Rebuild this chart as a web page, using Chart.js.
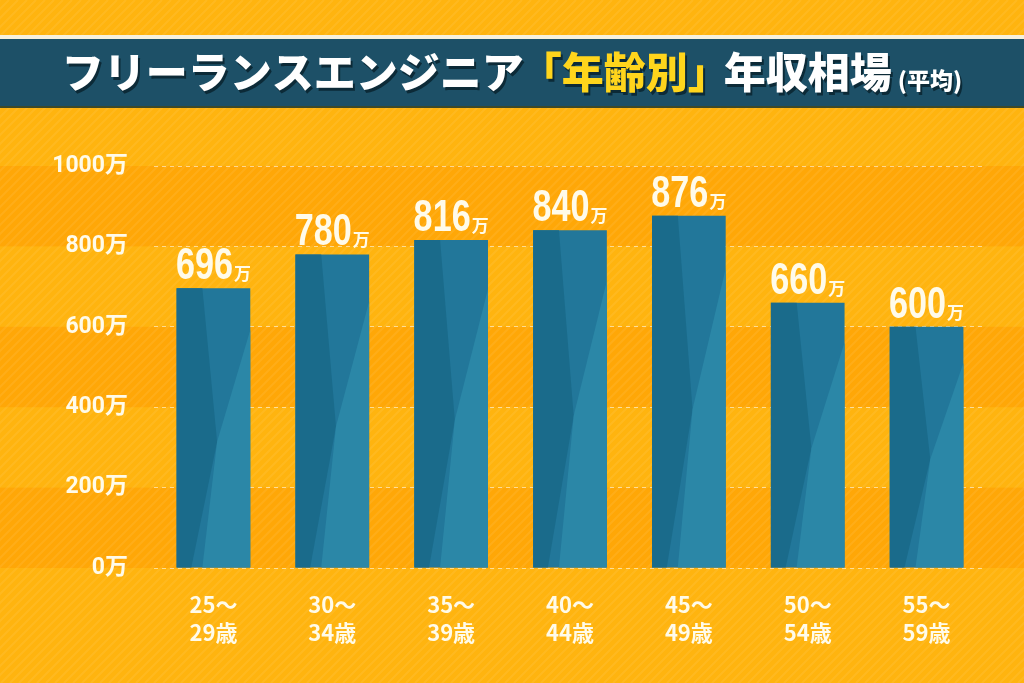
<!DOCTYPE html>
<html>
<head>
<meta charset="utf-8">
<script src="https://cdn.jsdelivr.net/npm/chart.js@4.4.1/dist/chart.umd.min.js"></script>
<style>
  html, body { margin: 0; padding: 0; background: #ffb30d; }
  #wrap { width: 1024px; height: 683px; }
</style>
</head>
<body>
<div id="wrap"><canvas id="chart" width="1024" height="683"></canvas></div>
<script>
// data
const ageRanges = [
  ['25～', '29歳'],
  ['30～', '34歳'],
  ['35～', '39歳'],
  ['40～', '44歳'],
  ['45～', '49歳'],
  ['50～', '54歳'],
  ['55～', '59歳']
];
const avgIncome = [696, 780, 816, 840, 876, 660, 600];
const yTicks = [0, 200, 400, 600, 800, 1000];
const unit = '万';

const titleParts = [
  { text: 'フリーランスエンジニア', color: '#ffffff', size: 42, gap: 0 },
  { text: '「年齢別」', color: '#ffd51c', size: 42, gap: -4 },
  { text: '年収相場', color: '#ffffff', size: 42, gap: -6 },
  { text: '(平均)', color: '#ffffff', size: 23, gap: 6 }
];

const JP = '"Noto Sans CJK JP", "Noto Sans", sans-serif';

/* ===== background: orange bands, stripes, title banner ===== */
const backdrop = {
  id: 'backdrop',
  beforeDraw(chart) {
    const { ctx, width, height, scales } = chart;
    const y = scales.y;
    ctx.save();
    ctx.fillStyle = '#ffb40f';
    ctx.fillRect(0, 0, width, height);

    // darker bands every other step
    ctx.fillStyle = '#ffa707';
    for (let i = 0; i < yTicks.length - 1; i += 2) {
      const a = y.getPixelForValue(yTicks[i]);
      const b = y.getPixelForValue(yTicks[i + 1]);
      ctx.fillRect(0, b, width, a - b);
    }

    // thin diagonal stripes
    ctx.strokeStyle = 'rgba(255,255,255,0.07)';
    ctx.lineWidth = 2;
    for (let x = -height; x < width + height; x += 9) {
      ctx.beginPath();
      ctx.moveTo(x, height);
      ctx.lineTo(x + height, 0);
      ctx.stroke();
    }

    // banner
    ctx.fillStyle = '#f7f1de';
    ctx.fillRect(0, 35, width, 4);
    ctx.fillStyle = '#1d5067';
    ctx.fillRect(0, 39, width, 68);
    ctx.fillStyle = '#3d4a2a';
    ctx.fillRect(0, 106, width, 2);
    ctx.restore();
  },
  afterDraw(chart) {
    // title with mixed colours
    const { ctx, width } = chart;
    ctx.save();
    ctx.textBaseline = 'middle';
    let total = 0;
    titleParts.forEach(p => {
      ctx.font = '900 ' + p.size + 'px ' + JP;
      p.w = ctx.measureText(p.text).width;
      total += p.w + p.gap;
    });
    let x = (width - total) / 2;
    titleParts.forEach(p => {
      x += p.gap;
      ctx.font = '900 ' + p.size + 'px ' + JP;
      const yy = p.size < 30 ? 80 : 72;
      ctx.fillStyle = '#0c2a37';
      ctx.fillText(p.text, x + 2, yy + 3);
      ctx.fillStyle = p.color;
      ctx.fillText(p.text, x, yy);
      x += p.w;
    });
    ctx.restore();
  }
};

/* ===== bar shading and value labels ===== */
const barDecor = {
  id: 'barDecor',
  afterDatasetsDraw(chart) {
    const { ctx } = chart;
    const meta = chart.getDatasetMeta(0);
    ctx.save();
    meta.data.forEach((bar, i) => {
      const L = bar.x - bar.width / 2, R = bar.x + bar.width / 2;
      const T = bar.y, B = bar.base, w = R - L, h = B - T;

      ctx.fillStyle = '#1a6b8b';
      ctx.beginPath();
      ctx.moveTo(L, T);
      ctx.lineTo(L + 0.35 * w, T);
      ctx.lineTo(L + 0.55 * w, T + 0.55 * h);
      ctx.lineTo(L + 0.2 * w, B);
      ctx.lineTo(L, B);
      ctx.closePath();
      ctx.fill();

      ctx.fillStyle = '#2b87a7';
      ctx.beginPath();
      ctx.moveTo(R, T + 0.15 * h);
      ctx.lineTo(R, B);
      ctx.lineTo(L + 0.35 * w, B);
      ctx.lineTo(L + 0.55 * w, T + 0.55 * h);
      ctx.closePath();
      ctx.fill();

      // value label, condensed digits + small unit
      const num = String(avgIncome[i]);
      ctx.fillStyle = '#fffbea';
      ctx.textBaseline = 'alphabetic';
      ctx.font = 'bold 45px "Liberation Sans", sans-serif';
      const sx = 0.76;
      const nw = ctx.measureText(num).width * sx;
      ctx.font = 'bold 17px ' + JP;
      const uw = ctx.measureText(unit).width;
      const start = bar.x - (nw + uw + 1) / 2;
      const base = T - 9;
      ctx.save();
      ctx.translate(start, base);
      ctx.scale(sx, 1);
      ctx.font = 'bold 45px "Liberation Sans", sans-serif';
      ctx.fillText(num, 0, 0);
      ctx.restore();
      ctx.font = 'bold 17px ' + JP;
      ctx.fillText(unit, start + nw + 1, base + 1);
    });
    ctx.restore();
  }
};

new Chart(document.getElementById('chart'), {
  type: 'bar',
  data: {
    labels: ageRanges,
    datasets: [{
      data: avgIncome,
      backgroundColor: '#22779a',
      borderWidth: 0,
      barPercentage: 0.62,
      categoryPercentage: 1
    }]
  },
  options: {
    responsive: false,
    animation: false,
    layout: { padding: { top: 166, right: 38, bottom: 0, left: 0 } },
    plugins: {
      legend: { display: false },
      tooltip: { enabled: false }
    },
    scales: {
      x: {
        grid: { display: false, drawTicks: false },
        border: { display: false },
        ticks: {
          color: '#fffbea',
          padding: 22,
          font: { family: JP, size: 22, weight: 'bold', lineHeight: 1.3 }
        },
        afterFit(s) { s.height = 115; }
      },
      y: {
        min: 0,
        max: 1000,
        afterBuildTicks(s) { s.ticks = yTicks.map(v => ({ value: v })); },
        grid: {
          color: 'rgba(255,255,255,0.55)',
          lineWidth: 1,
          drawTicks: false
        },
        border: { display: false, dash: [4, 4] },
        ticks: {
          color: '#fffbea',
          padding: 26,
          font: { family: 'Roboto, ' + JP, size: 23, weight: 'bold' },
          callback: v => v + unit
        },
        afterFit(s) { s.width = 154; }
      }
    }
  },
  plugins: [backdrop, barDecor]
});
</script>
</body>
</html>
